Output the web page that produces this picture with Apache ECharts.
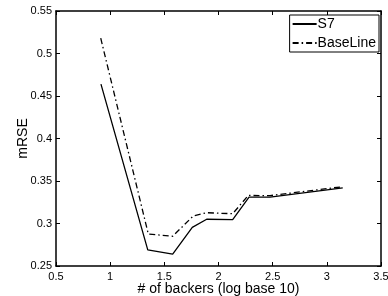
<!DOCTYPE html>
<html>
<head>
<meta charset="utf-8">
<script src="https://cdn.jsdelivr.net/npm/echarts@6/dist/echarts.min.js"></script>
<style>
  html, body { margin: 0; padding: 0; background: #fff; }
  #main { width: 388px; height: 296px; }
</style>
</head>
<body>
<div id="main"></div>
<script>
// x = log10 of number of backers
var xS7 = [0.915, 1.347, 1.577, 1.758, 1.891, 2.131, 2.282, 2.476, 3.147];
var yS7 = [0.464, 0.269, 0.264, 0.2955, 0.305, 0.3045, 0.331, 0.331, 0.342];
var xBase = [0.913, 1.352, 1.577, 1.768, 1.891, 2.131, 2.275, 2.476, 3.147];
var yBase = [0.518, 0.2876, 0.285, 0.309, 0.3127, 0.3115, 0.333, 0.3328, 0.3433];
var seriesNames = ['S7', 'BaseLine'];

function pairs(xs, ys) {
  return xs.map(function (x, i) { return [x, ys[i]]; });
}

var font = 'Liberation Sans, Arial, sans-serif';
var chart = echarts.init(document.getElementById('main'));

chart.setOption({
  animation: false,
  backgroundColor: '#fff',
  grid: { left: 56, right: 7, top: 11, bottom: 30, outerBoundsMode: 'none', containLabel: false },
  legend: {
    orient: 'vertical',
    right: 9,
    top: 15,
    data: seriesNames,
    itemWidth: 24,
    itemHeight: 12,
    itemGap: 5,
    padding: [2, 3, 2, 2],
    borderColor: '#000',
    borderWidth: 1,
    backgroundColor: '#fff',
    itemStyle: { opacity: 0 },
    textStyle: { fontFamily: font, fontSize: 14, color: '#000', padding: [0, 0, 0, -4] }
  },
  xAxis: [{
    type: 'value',
    min: 0.5, max: 3.5, interval: 0.5,
    name: '# of backers (log base 10)',
    nameLocation: 'middle',
    nameGap: 16,
    nameMoveOverlap: false,
    nameTextStyle: { fontFamily: font, fontSize: 14, color: '#000' },
    axisLine: { lineStyle: { color: '#000', width: 1.5 } },
    axisTick: { inside: true, length: 4, lineStyle: { color: '#000' } },
    axisLabel: { fontFamily: font, fontSize: 11, color: '#000', margin: 5 },
    splitLine: { show: false }
  }, {
    type: 'value', position: 'top',
    min: 0.5, max: 3.5, interval: 0.5,
    axisLine: { show: true, lineStyle: { color: '#000', width: 1.5 } },
    axisTick: { inside: true, length: 4, lineStyle: { color: '#000' } },
    axisLabel: { show: false },
    splitLine: { show: false }
  }],
  yAxis: [{
    type: 'value',
    min: 0.25, max: 0.55, interval: 0.05,
    name: 'mRSE',
    nameLocation: 'middle',
    nameGap: 26,
    nameMoveOverlap: false,
    nameTextStyle: { fontFamily: font, fontSize: 14, color: '#000' },
    axisLine: { show: true, lineStyle: { color: '#000', width: 1.5 } },
    axisTick: { inside: true, length: 4, lineStyle: { color: '#000' } },
    axisLabel: {
      fontFamily: font, fontSize: 11, color: '#000', margin: 4,
      formatter: function (v) { return String(+v.toFixed(2)); }
    },
    splitLine: { show: false }
  }, {
    type: 'value', position: 'right',
    min: 0.25, max: 0.55, interval: 0.05,
    axisLine: { show: true, lineStyle: { color: '#000', width: 1.5 } },
    axisTick: { inside: true, length: 4, lineStyle: { color: '#000' } },
    axisLabel: { show: false },
    splitLine: { show: false }
  }],
  series: [{
    name: 'S7',
    type: 'line',
    data: pairs(xS7, yS7),
    symbol: 'none',
    itemStyle: { color: '#000' },
    lineStyle: { color: '#000', width: 1.3, type: 'solid' }
  }, {
    name: 'BaseLine',
    type: 'line',
    data: pairs(xBase, yBase),
    symbol: 'none',
    itemStyle: { color: '#000' },
    lineStyle: { color: '#000', width: 1.3, type: [6, 3, 1.5, 3] }
  }]
});
</script>
</body>
</html>
